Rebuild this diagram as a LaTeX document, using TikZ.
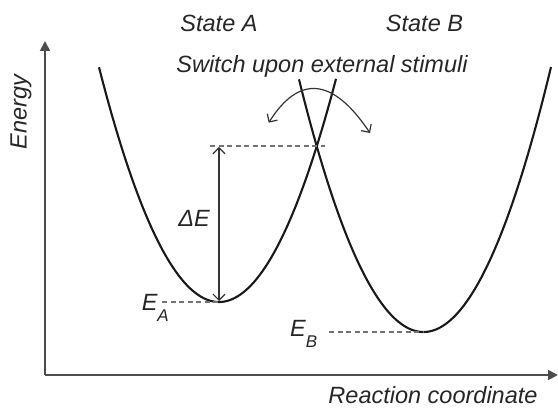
\documentclass[tikz,border=0pt]{standalone}
\usepackage{fontspec}
\setmainfont{Liberation Sans}
\usetikzlibrary{arrows.meta}
\begin{document}
\begin{tikzpicture}[x=1pt,y=-1pt,
  lbl/.style={font=\fontsize{23.5}{28}\selectfont\itshape, text=black!85, inner sep=0pt},
  axis/.style={draw=black!70, line width=1.8pt, -{Triangle[length=10pt,width=10pt]}},
  well/.style={draw=black!90, line width=2.1pt},
  guide/.style={draw=black!55, line width=1.2pt, dash pattern=on 5pt off 3.5pt},
  dbl/.style={draw=black!80, line width=1.2pt, {Straight Barb[length=6pt,width=12pt]}-{Straight Barb[length=6pt,width=12pt]}}
]
\useasboundingbox (0,0) rectangle (558,409);
% axes
\coordinate (O) at (45,375);
\coordinate (ytip) at (45,41);
\coordinate (xtip) at (558,375);
\draw[axis] (O) -- (ytip);
\draw[axis] (O) -- (xtip);
\node[lbl, rotate=90] (energy) at (21,112) {Energy};
\node[lbl, anchor=base] (rc) at (433,403) {Reaction coordinate};
% wells
\draw[well] plot[domain=99:336, samples=120] (\x, {302-(0.12767*(\x-219))^2});
\draw[well] plot[domain=299:551, samples=120] (\x, {332-(0.12767*(\x-423.5))^2});
\coordinate (minA) at (219,302);
\coordinate (minB) at (423.5,332);
\coordinate (cross) at (317,146);
% guides
\coordinate (topL) at (210,146);
\coordinate (topR) at (325,146);
\coordinate (eaL) at (162,302);
\coordinate (ebL) at (329,332);
\draw[guide] (topL) -- (topR);
\draw[guide] (eaL) -- (minA);
\draw[guide] (ebL) -- (minB);
% Delta E arrow
\coordinate (dTop) at (219,147);
\coordinate (dBot) at (219,301);
\draw[dbl] (dTop) -- (dBot);
\node[lbl, anchor=base] (dE) at (194,227) {ΔE};
% switch arrow
\coordinate (swL) at (268.7,122.7);
\coordinate (swR) at (370,133);
\draw[dbl] (swL) .. controls (299.3,74.3) and (333,77.7) .. (swR);
% labels
\node[lbl, anchor=base] (stA) at (219,31.5) {State A};
\node[lbl, anchor=base] (stB) at (424.5,31.5) {State B};
\node[lbl, anchor=base] (sw) at (322,72.5) {Switch upon external stimuli};
\node[lbl, anchor=base west] (EA) at (141.6,311) {E\raisebox{-11pt}{\fontsize{17}{17}\selectfont A}};
\node[lbl, anchor=base west] (EB) at (290,336.5) {E\raisebox{-11pt}{\fontsize{17}{17}\selectfont B}};
\end{tikzpicture}
\end{document}
